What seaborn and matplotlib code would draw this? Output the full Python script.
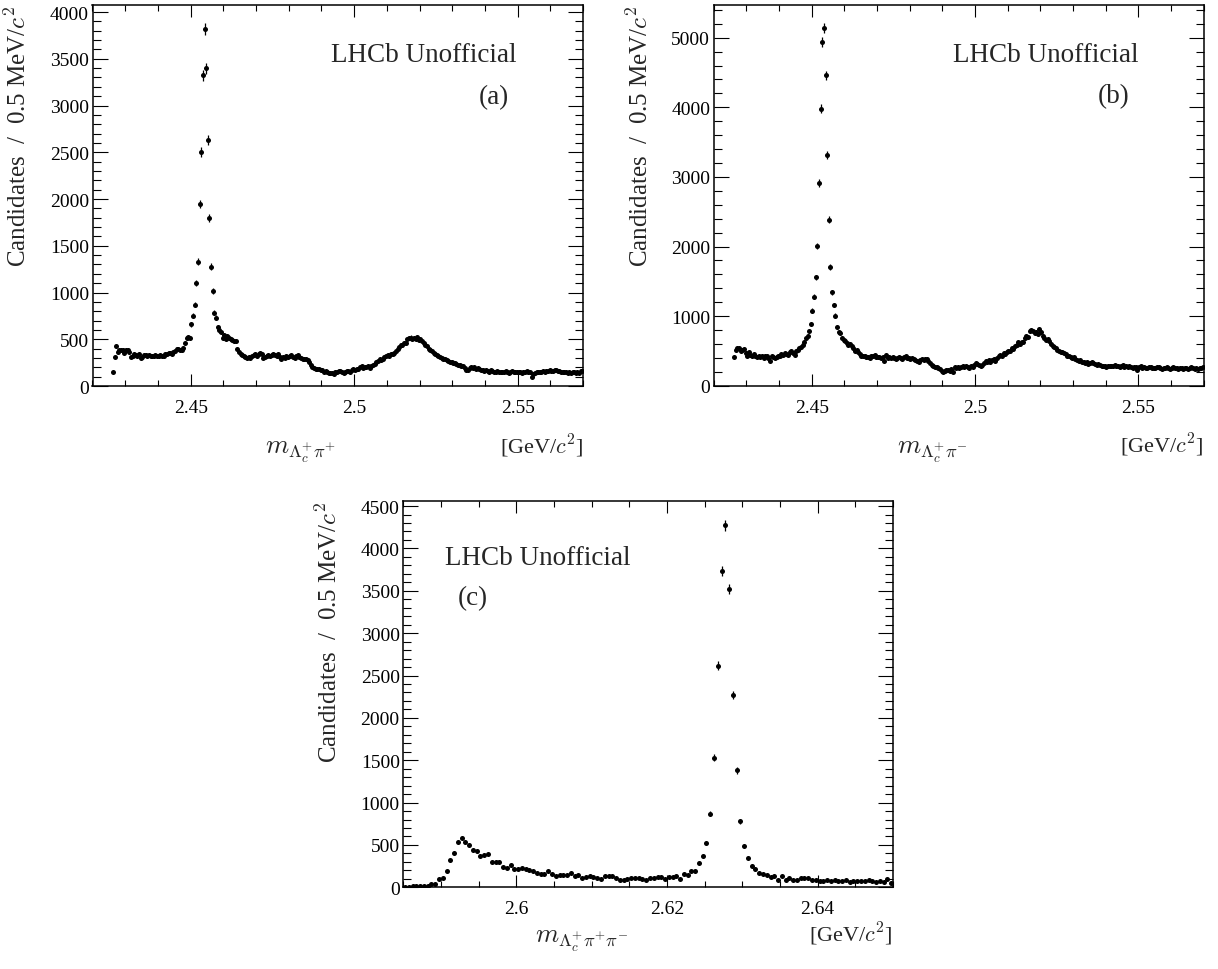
import numpy as np
import pandas as pd
import matplotlib
matplotlib.use("Agg")
import matplotlib.pyplot as plt
from matplotlib.ticker import MultipleLocator, FuncFormatter
import seaborn as sns

# ------------------------------------------------------------------ data
bin_width = 0.0005  # GeV per bin (0.5 MeV)

# panel (a): Lambda_c+ pi+ ; first filled bin centre
a_first = 2.42625
a_counts = [
    153, 314, 428, 364, 380, 390, 385, 350, 390, 385,
    360, 314, 321, 345, 335, 320, 340, 300, 314, 335,
    330, 320, 330, 325, 325, 320, 330, 325, 320, 330,
    320, 325, 340, 345, 355, 350, 345, 360, 375, 400,
    395, 390, 385, 410, 460, 510, 520, 515, 660, 750,
    870, 1100, 1330,
    1943, 2503, 3321, 3817, 3396, 2632, 1796, 1278, 1014, 786, 732, 632, 596,
    578, 514, 543, 507, 535, 518, 500, 490, 482, 480,
    400, 364, 340, 328, 321, 310, 300, 310, 296, 321,
    328, 340, 321, 340, 357, 340, 303, 314, 321, 328,
    321, 332, 346, 332, 321, 340, 314, 293, 314, 303,
    321, 310, 318, 328, 314, 303, 321, 328, 310, 300,
    293, 286, 286, 275, 257, 221, 207, 196, 186, 178,
    178, 168, 168, 153, 157, 150, 143, 143, 136, 125,
    150, 155, 160, 160,
    150, 140, 155, 160, 165, 150, 175, 180, 170, 185,
    178, 200, 210, 195, 205, 200, 215, 196, 210, 225,
    240, 255, 270, 285, 275, 293, 310, 321, 330, 325,
    340, 345, 357, 370, 400, 415, 435, 440, 455, 465,
    500, 510, 518, 505, 515, 500, 520, 490, 500, 480,
    460, 440, 425, 400, 385, 370, 357, 340, 330, 320,
    305, 300, 293, 285, 280, 270, 260, 255, 250, 243,
    235, 225, 220, 214, 210, 196, 175, 170, 195, 200,
    190, 200, 186, 190, 180, 175, 170, 165, 175, 160,
    155, 168, 160, 150, 155, 160, 150, 145, 155, 148,
    160, 150, 140, 155, 160, 145, 150, 155, 145, 150,
    140, 155, 150, 160, 145, 150, 100, 130, 140, 150,
    145, 155, 150, 160, 155, 165, 160, 170, 165, 160,
    170, 175, 160, 165, 150, 155, 145, 150, 140, 150,
    135, 150, 145, 140, 155, 135, 160, 165,
]

# panel (b): Lambda_c+ pi-
b_first = 2.42625
b_counts = [
    417, 518, 537, 537, 503, 518, 527, 470, 431, 479,
    446, 422, 455, 431, 417, 431, 412, 431, 403, 431,
    422, 403, 360, 422, 417, 393, 407, 420, 431, 455,
    441, 465, 455, 441, 479, 503, 470, 441, 503, 518,
    535, 551, 585, 623, 681, 719, 781, 887, 1078, 1280,
    1558, 2009, 2915, 3979, 4938, 5139, 4458, 3308, 2383, 1702, 1342, 1160, 1007,
    839, 776, 757, 685, 661, 647, 613, 585, 599, 566,
    537, 503, 518, 479, 455, 431, 422, 431, 407, 417,
    398, 422, 431, 441, 407, 417, 407, 398, 412, 360,
    441, 393, 407, 398, 417, 393, 383, 398, 407, 393,
    383, 417, 422, 403, 393, 383, 398, 383, 369, 360,
    345, 374, 383,
    369, 383, 390, 350, 326, 297, 288, 273, 264, 249,
    240, 216, 201, 216, 225, 230, 216, 240, 201, 264,
    249, 264, 254, 264, 278, 264, 288, 264, 254, 288,
    264, 297, 326, 312, 297, 278, 297, 326, 360, 345,
    369, 336, 374, 383, 360, 393, 422, 441, 431, 465,
    455, 479, 503, 503, 537, 527, 566, 585, 623, 599,
    633, 623, 681, 719, 695, 791, 805, 791, 757, 776,
    743, 815, 767, 709, 681, 661, 671, 647, 599, 575,
    551, 537, 518, 503, 489, 479, 465, 455, 431, 422,
    407, 398, 407, 383, 374, 360, 369, 345, 336, 326,
    336, 312, 326, 336, 321, 312, 297, 312, 297, 278,
    288, 278, 264, 288, 278, 288, 278, 297, 278, 288,
    264, 278, 297, 264, 278, 264, 278, 264, 249, 264,
    273, 220, 264, 278,
    255, 270, 260, 250, 265, 275, 255, 260, 250, 265,
    270, 255, 245, 260, 250, 265, 255, 240, 260, 270,
    250, 255, 245, 260, 250, 235, 255, 260, 245, 250,
    265, 255, 240, 250, 245, 260, 255, 265,
]

# panel (c): Lambda_c+ pi+ pi-
c_first = 2.58525
c_counts = [
    8, 8, 12, 12, 20, 12, 12, 36, 44, 100,
    108, 188, 320, 404, 532, 580, 540, 500, 440, 430,
    372, 380, 388, 300, 300, 300, 240, 228, 260, 212,
    220, 228, 220, 200, 188, 172, 160, 160, 188, 152,
    132, 140, 148, 140, 172, 132, 148, 112, 120, 132,
    120, 108, 100, 128,
    132, 132, 108, 88, 88, 100, 108, 108, 108, 100,
    88, 108, 108, 120, 120, 100, 120, 120, 128, 100,
    160, 148, 188, 196, 288, 368, 520,
    868, 1532, 2616, 3732, 4272, 3516, 2268, 1380, 780,
    492, 348, 254, 212, 172, 156, 144, 116, 132, 92,
    132, 92, 112, 92, 84, 104, 104, 104, 92, 84,
    80, 72, 88, 76, 84, 72, 80, 92, 68, 76,
    72, 80, 76, 84, 72, 68, 80, 64, 96, 56,
]

panel_tags = ["(a)", "(b)", "(c)"]
x_titles = [r"$m_{\Lambda_{c}^{+}\pi^{+}}$",
            r"$m_{\Lambda_{c}^{+}\pi^{-}}$",
            r"$m_{\Lambda_{c}^{+}\pi^{+}\pi^{-}}$"]
unit_label = r"[GeV/$c^{2}$]"
y_title = r"Candidates  /  0.5 MeV/$c^{2}$"
watermark = "LHCb Unofficial"

# ------------------------------------------------------------------ style
sns.set_theme(style="ticks")
plt.rcParams["font.family"] = ["Liberation Serif", "DejaVu Serif"]
plt.rcParams["mathtext.fontset"] = "cm"
plt.rcParams["axes.linewidth"] = 1.1
plt.rcParams["axes.edgecolor"] = "black"

W, H = 1218, 970
fig = plt.figure(figsize=(W / 100, H / 100), dpi=100)
fig.patch.set_facecolor("white")


def frame(l, r, t, b):
    return [l / W, 1 - b / H, (r - l) / W, (b - t) / H]


specs = [
    dict(rect=frame(92.5, 583.2, 6, 387), first=a_first, counts=a_counts,
         xlim=(2.42, 2.57), ylim=(0, 4075), xmaj=0.05, xmin=0.01, ymaj=500, ymin=100,
         wm=(0.487, 0.852), tag=(0.788, 0.743), mx=0.3515, ty=-0.175),
    dict(rect=frame(713.7, 1203.6, 6, 386.7), first=b_first, counts=b_counts,
         xlim=(2.42, 2.57), ylim=(0, 5470), xmaj=0.05, xmin=0.01, ymaj=1000, ymin=200,
         wm=(0.4875, 0.852), tag=(0.784, 0.745), mx=0.374, ty=-0.175),
    dict(rect=frame(403.2, 893.0, 502, 888.3), first=c_first, counts=c_counts,
         xlim=(2.585, 2.65), ylim=(0, 4560), xmaj=0.02, xmin=0.005, ymaj=500, ymin=100,
         wm=(0.085, 0.837), tag=(0.111, 0.733), mx=0.27, ty=-0.14),
]

fmt = FuncFormatter(lambda v, p: f"{v:g}")

for i, sp in enumerate(specs):
    ax = fig.add_axes(sp["rect"])
    ax.set_facecolor("white")
    counts = np.asarray(sp["counts"], dtype=float)
    mass = sp["first"] + bin_width * np.arange(len(counts))
    df = pd.DataFrame({"mass": mass, "count": counts, "err": np.sqrt(counts)})

    ax.vlines(df["mass"], df["count"] - df["err"], df["count"] + df["err"],
              color="black", lw=0.9, zorder=2)
    sns.scatterplot(data=df, x="mass", y="count", ax=ax, color="black",
                    s=13, linewidth=0, legend=False, zorder=3)

    ax.set_xlim(*sp["xlim"])
    ax.set_ylim(*sp["ylim"])
    ax.xaxis.set_major_locator(MultipleLocator(sp["xmaj"]))
    ax.xaxis.set_minor_locator(MultipleLocator(sp["xmin"]))
    ax.yaxis.set_major_locator(MultipleLocator(sp["ymaj"]))
    ax.yaxis.set_minor_locator(MultipleLocator(sp["ymin"]))
    ax.xaxis.set_major_formatter(fmt)
    ax.tick_params(axis="both", which="both", direction="in", top=True, right=True,
                   colors="black", labelsize=14, width=0.8)
    ax.tick_params(axis="x", which="major", length=8.4, pad=9.5)
    ax.tick_params(axis="x", which="minor", length=4.6)
    ax.tick_params(axis="y", which="major", length=10.5, pad=2.5)
    ax.tick_params(axis="y", which="minor", length=5.6)
    for s in ax.spines.values():
        s.set_visible(True)
        s.set_linewidth(1.1)
        s.set_color("black")
    ax.grid(False)

    ax.set_xlabel("")
    ax.set_ylabel(y_title, fontsize=18, loc="top")
    ax.yaxis.set_label_coords(-0.125, 1.0)

    ax.text(sp["mx"], sp["ty"], x_titles[i], transform=ax.transAxes,
            ha="left", va="baseline", fontsize=19)
    ax.text(1.0, sp["ty"], unit_label, transform=ax.transAxes,
            ha="right", va="baseline", fontsize=16)
    ax.text(sp["wm"][0], sp["wm"][1], watermark, transform=ax.transAxes,
            ha="left", va="baseline", fontsize=19.5)
    ax.text(sp["tag"][0], sp["tag"][1], panel_tags[i], transform=ax.transAxes,
            ha="left", va="baseline", fontsize=19.5)

fig.savefig("out.png", dpi=100, facecolor="white")
